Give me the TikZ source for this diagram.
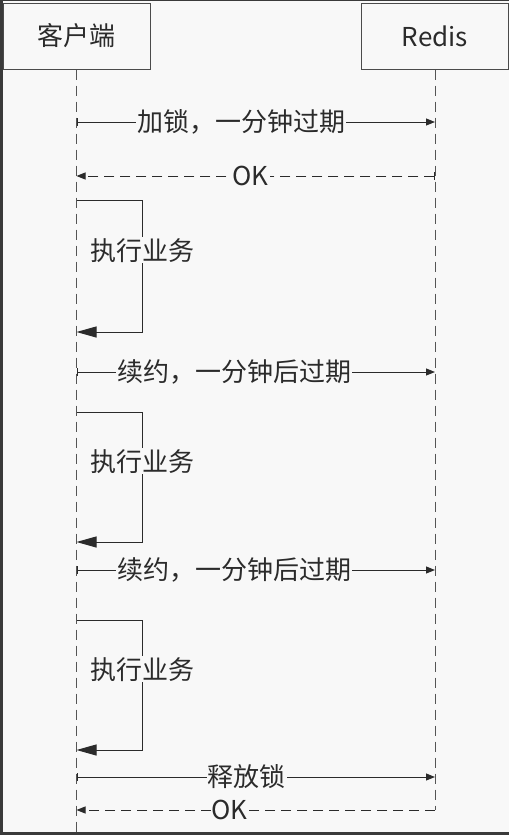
\documentclass[tikz,border=0pt]{standalone}
\usepackage{fontspec}
\setmainfont{Noto Sans CJK SC}
\usetikzlibrary{arrows.meta,positioning}
\definecolor{bg}{HTML}{F8F8F8}
\definecolor{ink}{HTML}{2B2B2B}
\definecolor{edge}{HTML}{3A3A3A}

\begin{document}
\begin{tikzpicture}[x=1pt,y=-1pt,
  every node/.style={font=\fontsize{26}{28}\selectfont,text=ink},
  actor/.style={draw=ink!85,line width=1pt,minimum width=147pt,minimum height=66pt,fill=bg},
  life/.style={draw=ink!80,line width=1pt,dash pattern=on 10pt off 6pt},
  msg/.style={draw=ink,line width=1pt,{Bar[width=8pt]}-{Triangle[length=9pt,width=7pt]}},
  reply/.style={msg,dash pattern=on 10pt off 6pt},
  selfmsg/.style={draw=ink,line width=1pt,-{Triangle[length=20pt,width=11pt]}},
  lbl/.style={fill=bg,inner sep=1pt}]
  \fill[bg] (0,0) rectangle (509,835);
  \useasboundingbox (0,0) rectangle (509,835);
  \draw[edge,line width=0.8pt] (0,0.4) -- (509,0.4);
  \draw[edge,line width=3pt] (1.5,0) -- (1.5,833.5) -- (509,833.5);

  \node[actor] (client) at (76.5,36) {客户端};
  \node[actor] (redis) at (435,36) {Redis};
  \coordinate (clientEnd) at (client.south |- 0,835);
  \coordinate (redisEnd) at (redis.south |- 0,810);
  \draw[life] (client.south) -- (clientEnd);
  \draw[life] (redis.south) -- (redisEnd);

  % messages
  \foreach \y/\n in {122/1,176/2,372/3,570/4,777/5,810/6} {
    \coordinate (c\n) at (client.south |- 0,\y);
    \coordinate (r\n) at (redis.south |- 0,\y);
  }
  \path
  (c1) edge [msg] node [lbl,pos=0.46] {加锁，一分钟过期} (r1)
  (r2) edge [reply] node [lbl,pos=0.514] {OK} (c2)
  (c3) edge [msg] node [lbl,pos=0.44] {续约，一分钟后过期} (r3)
  (c4) edge [msg] node [lbl,pos=0.44] {续约，一分钟后过期} (r4)
  (c5) edge [msg] node [lbl,pos=0.475] {释放锁} (r5)
  (r6) edge [reply,-{Triangle[length=9pt,width=7pt]}] node [lbl,pos=0.573] {OK} (c6)
  ;

  % self calls
  \foreach \y/\n/\h in {200/1/132,412/2/130,620/3/130} {
    \coordinate (loop\n) at (client.south |- 0,\y);
    \draw[selfmsg] (loop\n) -- ++(66,0) -- node [lbl,pos=0.38] {执行业务} ++(0,\h) -- ++(-66,0);
  }
\end{tikzpicture}
\end{document}
